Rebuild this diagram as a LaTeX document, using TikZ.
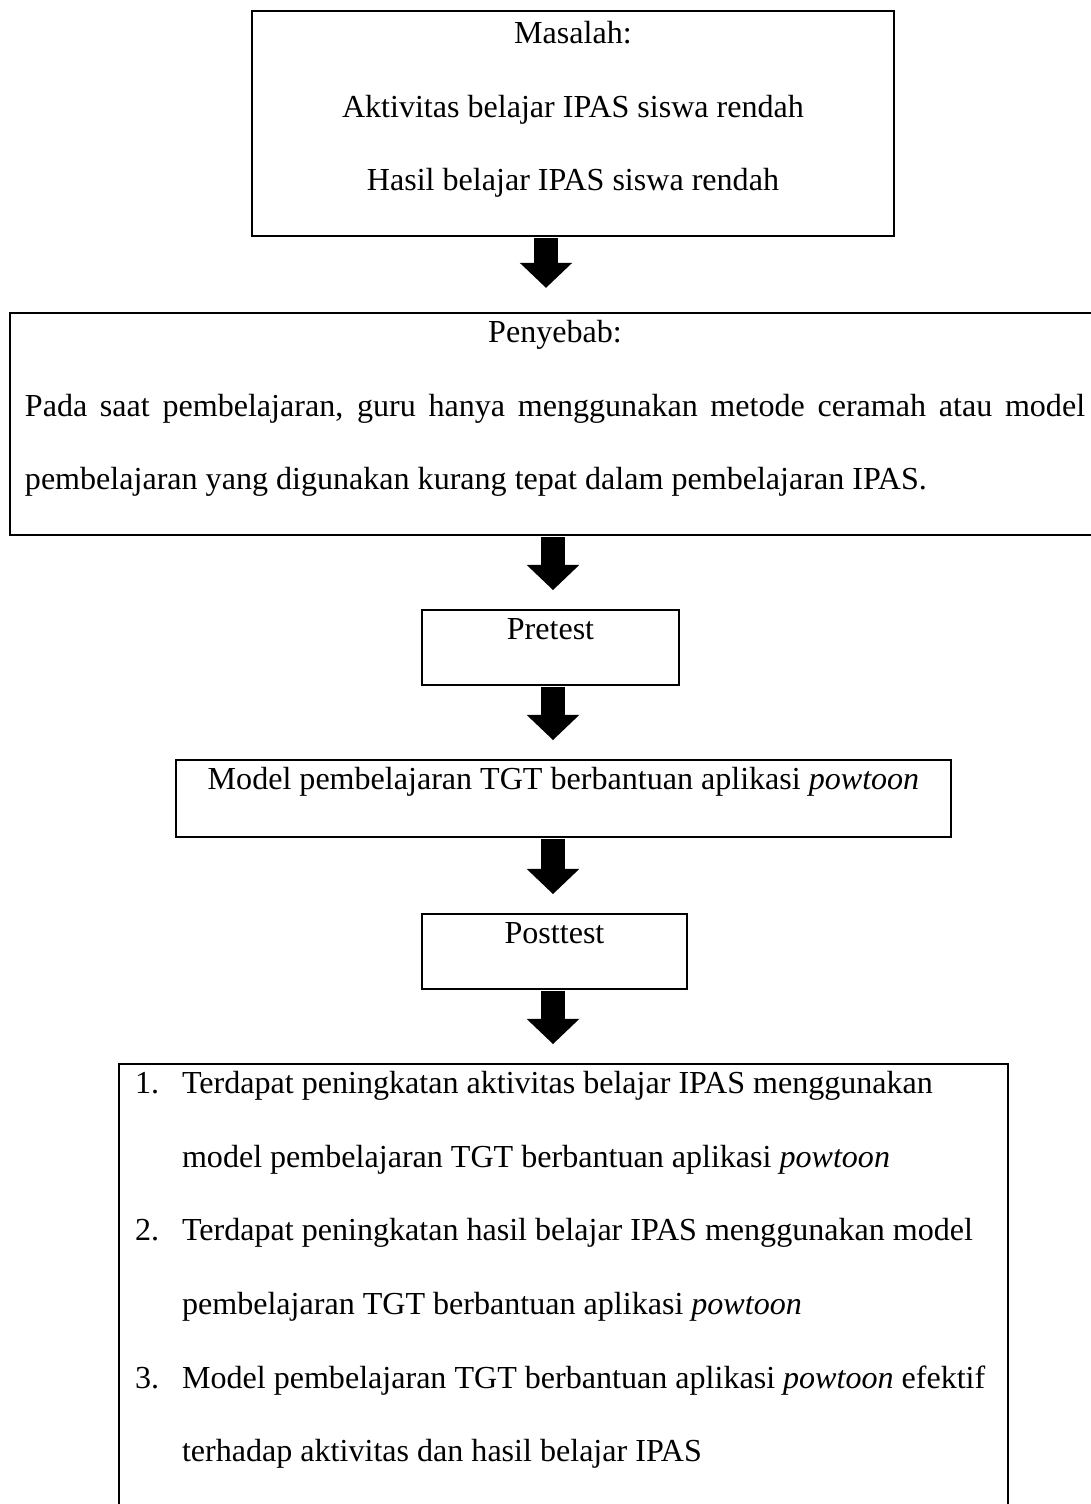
\documentclass[tikz,border=0pt]{standalone}
\usepackage{fontspec}
\setmainfont{Liberation Serif}
\usetikzlibrary{positioning,arrows.meta,calc}

% one pixel of the page
\newcommand{\px}{0.3664pt}
\newcommand{\num}[1]{\makebox[17.2pt][l]{#1}}
\newcommand{\cont}{\hspace*{17.2pt}}

\begin{document}
\begin{tikzpicture}[
    x=\px, y=-\px,
    box/.style={draw, line width=0.75pt, inner sep=0pt, outer sep=0pt, anchor=north west},
    txt/.style={inner sep=0pt, outer sep=0pt, align=center, font=\fontsize{11.75}{27}\selectfont},
    arr/.style={line width=8.8pt, -{Triangle[width=18.7pt, length=9.2pt]}, shorten <=0.8pt, shorten >=7.3pt}
]
\useasboundingbox (0,0) rectangle (1091,1504);
\clip (0,0) rectangle (1091,1504);

\node[box, line width=1pt, minimum width=642*\px, minimum height=225*\px] (masalah) at (252,11) {};
\node[box, minimum width=1090*\px, minimum height=222*\px] (penyebab) at (10,313) {};
\node[box, line width=0.6pt, minimum width=257*\px, minimum height=75*\px] (pretest) at (422,610) {};
\node[box, line width=1pt, minimum width=775*\px, minimum height=77*\px] (model) at (176,760) {};
\node[box, line width=0.6pt, minimum width=265*\px, minimum height=75*\px] (posttest) at (422,914) {};
\node[box, minimum width=889*\px, minimum height=520*\px] (hasil) at (119,1064) {};

\node[txt, below=3.7pt of masalah.north] (masalahtxt) {Masalah:\\Aktivitas belajar IPAS siswa rendah\\Hasil belajar IPAS siswa rendah};
\node[txt, align=left, below=2.6pt of penyebab.north] (penyebabtxt)
    {\makebox[388.4pt]{Penyebab:}\\
     \makebox[388.4pt][s]{Pada saat pembelajaran, guru hanya menggunakan metode ceramah atau model}\\
     pembelajaran yang digunakan kurang tepat dalam pembelajaran IPAS.};
\node[txt, below=3pt of pretest.north] (pretesttxt) {Pretest};
\node[txt, below=2.6pt of model.north] (modeltxt) {Model pembelajaran TGT berbantuan aplikasi \textit{powtoon}};
\node[txt, below=3pt of posttest.north] (posttesttxt) {Posttest};
\node[txt, align=left, below right=2.6pt and 5.9pt of hasil.north west] (hasiltxt)
    {\num{1.}Terdapat peningkatan aktivitas belajar IPAS menggunakan\\
     \cont model pembelajaran TGT berbantuan aplikasi \textit{powtoon}\\
     \num{2.}Terdapat peningkatan hasil belajar IPAS menggunakan model\\
     \cont pembelajaran TGT berbantuan aplikasi \textit{powtoon}\\
     \num{3.}Model pembelajaran TGT berbantuan aplikasi \textit{powtoon} efektif\\
     \cont terhadap aktivitas dan hasil belajar IPAS};

% arrows between the boxes
\coordinate (ax1) at (546,0);
\coordinate (ax2) at (553,0);
\draw[arr, shorten >=9.2pt] (masalah.south -| ax1) -- (penyebab.north -| ax1);
\draw[arr] (penyebab.south -| ax2) -- (pretest.north -| ax2);
\draw[arr] (pretest.south -| ax2) -- (model.north -| ax2);
\draw[arr] (model.south -| ax2) -- (posttest.north -| ax2);
\draw[arr] (posttest.south -| ax2) -- (hasil.north -| ax2);
\end{tikzpicture}
\end{document}
